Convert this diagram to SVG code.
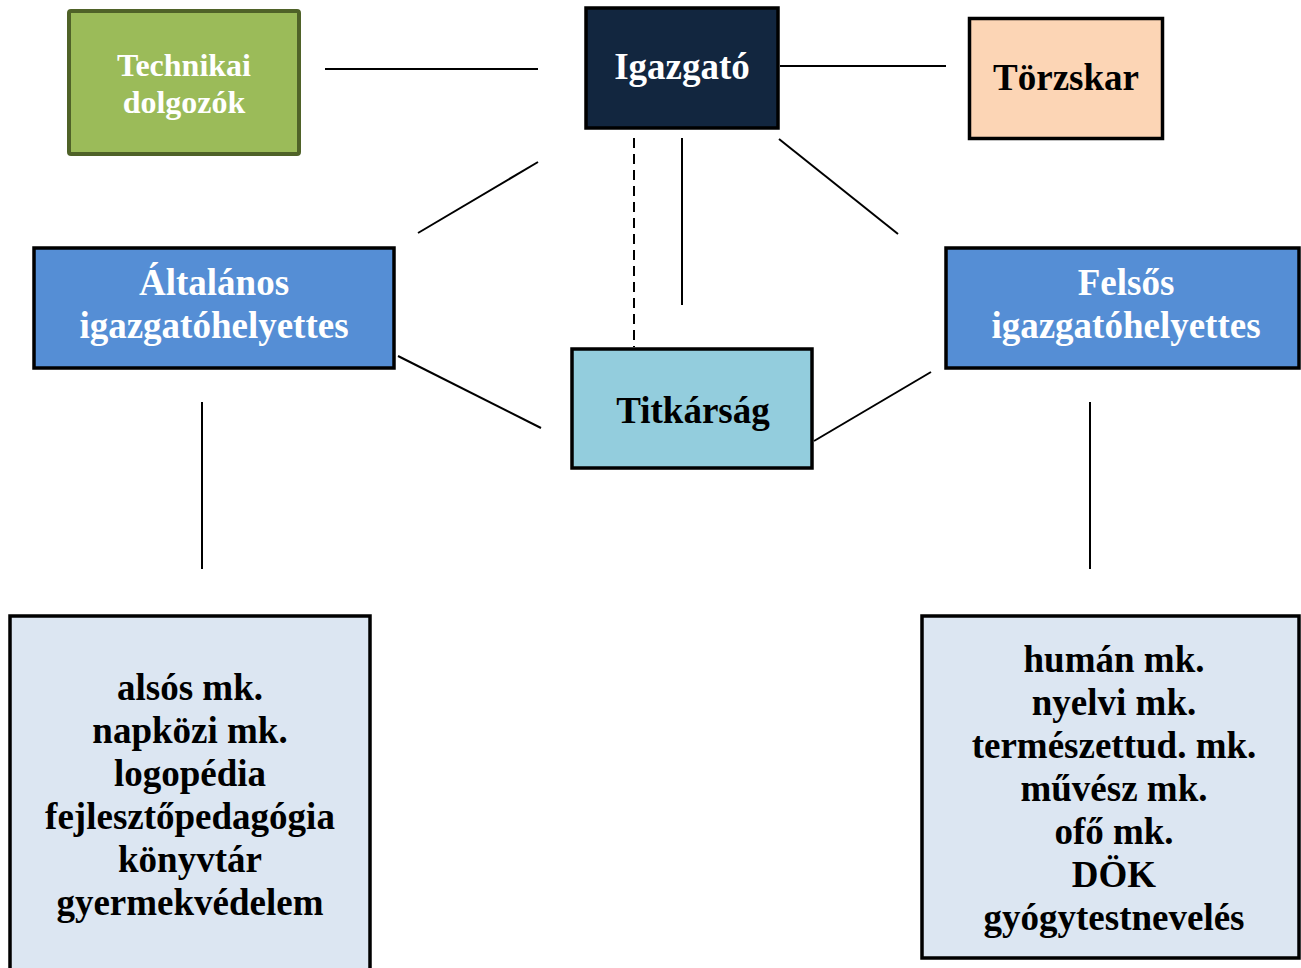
<svg xmlns="http://www.w3.org/2000/svg" width="1301" height="968" viewBox="0 0 1301 968">
<style>
text{font-family:"Liberation Serif","Times New Roman",serif;font-weight:bold;text-anchor:middle}
.w{fill:#ffffff}
.k{fill:#000000}
.box{stroke:#000;stroke-width:3.5}
.ln{stroke:#000;stroke-width:2;fill:none}
</style>
<rect width="1301" height="968" fill="#ffffff"/>
<g id="connectors">
<line class="ln" x1="325" y1="69" x2="538" y2="69"/>
<line class="ln" x1="780" y1="66" x2="946" y2="66"/>
<line class="ln" x1="538" y1="162" x2="418" y2="233"/>
<line class="ln" x1="634" y1="138" x2="634" y2="347" stroke-dasharray="10,6"/>
<line class="ln" x1="682" y1="138" x2="682" y2="305"/>
<line class="ln" x1="779" y1="139" x2="898" y2="234"/>
<line class="ln" x1="398" y1="356" x2="541" y2="428"/>
<line class="ln" x1="814" y1="441" x2="931" y2="372"/>
<line class="ln" x1="202" y1="402" x2="202" y2="569"/>
<line class="ln" x1="1090" y1="402" x2="1090" y2="569"/>
</g>
<g id="technikai">
<rect x="69" y="11" width="230" height="143" rx="2" fill="#9BBB59" stroke="#4F6228" stroke-width="4"/>
<text class="w" x="184" y="76" font-size="32">Technikai</text>
<text class="w" x="184" y="113" font-size="32">dolgozók</text>
</g>
<g id="igazgato">
<rect class="box" x="586" y="8" width="192" height="120" fill="#12263F"/>
<text class="w" x="682" y="79" font-size="37">Igazgató</text>
</g>
<g id="torzskar">
<rect class="box" x="969.500" y="18.500" width="193" height="120" fill="#FCD5B5"/>
<text class="k" x="1066" y="90" font-size="37">Törzskar</text>
</g>
<g id="altalanos">
<rect class="box" x="34" y="248" width="360" height="120" fill="#558ED5"/>
<text class="w" x="214" y="295" font-size="37">Általános</text>
<text class="w" x="214" y="338" font-size="37">igazgatóhelyettes</text>
</g>
<g id="felsos">
<rect class="box" x="946" y="248" width="353" height="120" fill="#558ED5"/>
<text class="w" x="1126" y="295" font-size="37">Felsős</text>
<text class="w" x="1126" y="338" font-size="37">igazgatóhelyettes</text>
</g>
<g id="titkarsag">
<rect class="box" x="572" y="349" width="240" height="119" fill="#93CDDD"/>
<text class="k" x="693" y="423" font-size="37">Titkárság</text>
</g>
<g id="also">
<rect class="box" x="10" y="616" width="360" height="360" fill="#DCE6F2"/>
<text class="k" x="190" y="700" font-size="37">alsós mk.</text>
<text class="k" x="190" y="743" font-size="37">napközi mk.</text>
<text class="k" x="190" y="786" font-size="37">logopédia</text>
<text class="k" x="190" y="829" font-size="37">fejlesztőpedagógia</text>
<text class="k" x="190" y="872" font-size="37">könyvtár</text>
<text class="k" x="190" y="915" font-size="37">gyermekvédelem</text>
</g>
<g id="felso">
<rect class="box" x="922" y="616" width="377" height="342" fill="#DCE6F2"/>
<text class="k" x="1114" y="672" font-size="37">humán mk.</text>
<text class="k" x="1114" y="715" font-size="37">nyelvi mk.</text>
<text class="k" x="1114" y="758" font-size="37">természettud. mk.</text>
<text class="k" x="1114" y="801" font-size="37">művész mk.</text>
<text class="k" x="1114" y="844" font-size="37">ofő mk.</text>
<text class="k" x="1114" y="887" font-size="37">DÖK</text>
<text class="k" x="1114" y="930" font-size="37">gyógytestnevelés</text>
</g>
</svg>
